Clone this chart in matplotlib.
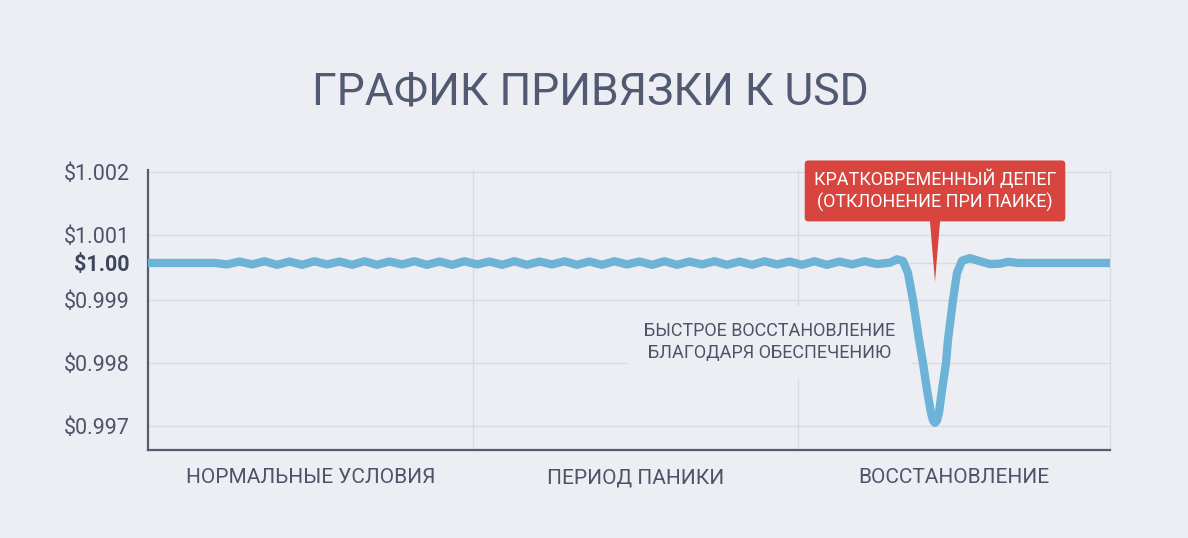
import numpy as np
import matplotlib
matplotlib.use("Agg")
import matplotlib.pyplot as plt
from matplotlib.patches import Polygon

# --- data -------------------------------------------------------------
title = "ГРАФИК ПРИВЯЗКИ К USD"
phases = ["НОРМАЛЬНЫЕ УСЛОВИЯ", "ПЕРИОД ПАНИКИ", "ВОССТАНОВЛЕНИЕ"]
phase_bounds = [0.0, 32.5, 65.0, 96.2]

price_ticks = [0.997, 0.998, 0.999, 1.000, 1.001, 1.002]
price_labels = ["$0.997", "$0.998", "$0.999", "$1.00", "$1.001", "$1.002"]

# flat start
start_t = [0.0, 6.7]
start_vals = [1.0, 1.0]

# small wobble around the peg (read crest / trough by crest / trough)
wave_vals = [0.99996, 1.00005, 0.99996, 1.00006, 0.99995, 1.00005, 0.99995,
             1.00006, 0.99996, 1.00005, 0.99995, 1.00006, 0.99995, 1.00005,
             0.99996, 1.00006, 0.99995, 1.00005, 0.99995, 1.00006, 0.99996,
             1.00005, 0.99995, 1.00006, 0.99995, 1.00005, 0.99996, 1.00006,
             0.99995, 1.00005, 0.99995, 1.00006, 0.99996, 1.00005, 0.99995,
             1.00006, 0.99995, 1.00005, 0.99996, 1.00006, 0.99995, 1.00005,
             0.99995, 1.00006, 0.99996, 1.00005, 0.99995, 1.00006, 0.99995,
             1.00005, 0.99996, 1.00006, 0.99997]
wave_t = 7.9 + 1.25 * np.arange(len(wave_vals))

# the short depeg and the recovery
dip_t = [74.2, 74.9, 75.5, 76.0, 76.5, 77.1, 77.5, 77.9, 78.3, 78.5, 78.7,
         78.9, 79.1, 79.4, 79.8, 80.0, 80.5, 80.9, 81.4, 82.2, 83.2, 84.2,
         85.2, 86.0, 87.0, 96.2]
dip_vals = [1.00001, 1.00013, 1.00007, 0.99973, 0.99900, 0.99837, 0.99800,
            0.99757, 0.99721, 0.99709, 0.99705, 0.99709, 0.99721, 0.99757,
            0.99800, 0.99837, 0.99900, 0.99973, 1.00008, 1.00017, 1.00006,
            0.99997, 0.99998, 1.00004, 1.00000, 1.00000]

t = np.concatenate([start_t, wave_t, dip_t])
price = np.concatenate([start_vals, wave_vals, dip_vals])

# --- style ------------------------------------------------------------
bg = "#eceef3"
ink = "#4d5469"
grid_c = "#d8dbe2"
line_c = "#6cb3d7"
red = "#d8453e"

plt.rcParams["font.family"] = ["Roboto", "DejaVu Sans"]

# the axis in the picture is not linear: 1.001..0.999 is squeezed
scale_vals = [0.996, 0.997, 0.998, 0.999, 1.000, 1.001, 1.002, 1.003]
scale_pos = [-63, 0, 63, 126, 163, 191, 254, 317]


def fwd(v):
    return np.interp(v, scale_vals, scale_pos)


def inv(p):
    return np.interp(p, scale_pos, scale_vals)


fig = plt.figure(figsize=(11.88, 5.38), dpi=100, facecolor=bg)
ax = fig.add_axes([148 / 1188, 88 / 538, 962 / 1188, 280 / 538])
ax.set_facecolor(bg)
ax.set_yscale("function", functions=(fwd, inv))
ax.set_xlim(phase_bounds[0], phase_bounds[-1])
ax.set_ylim(0.99662, 1.00203)

ax.plot(t, price, color=line_c, lw=6, solid_capstyle="round",
        solid_joinstyle="round", zorder=4)

# grid
ax.set_yticks(price_ticks)
ax.set_yticklabels(price_labels)
ax.set_xticks(phase_bounds[1:-1])
ax.set_xticklabels([])
mids = [(a + b) / 2 for a, b in zip(phase_bounds[:-1], phase_bounds[1:])]
ax.set_xticks(mids, minor=True)
ax.set_xticklabels(phases, minor=True)
ax.grid(True, which="major", color=grid_c, lw=1.0, zorder=0)
ax.set_axisbelow(True)
ax.tick_params(axis="both", which="both", length=0)
ax.tick_params(axis="y", pad=13, labelsize=15.5, labelcolor=ink)
ax.tick_params(axis="x", which="minor", pad=13, labelsize=15, labelcolor=ink)

for lab in ax.get_yticklabels():
    if lab.get_text() == "$1.00":
        lab.set_fontweight("bold")
        lab.set_color("#3f4659")

for side in ["left", "bottom"]:
    ax.spines[side].set_color("#555c70")
    ax.spines[side].set_linewidth(1.6)
ax.spines["top"].set_visible(False)
ax.spines["right"].set_color(grid_c)
ax.spines["right"].set_linewidth(1.0)

fig.text(0.497, 1 - 92 / 538, title, ha="center", va="center", fontsize=32,
         color="#525a72")

# annotation: recovery
ax.text(62.2, 0.99833, "БЫСТРОЕ ВОССТАНОВЛЕНИЕ\nБЛАГОДАРЯ ОБЕСПЕЧЕНИЮ",
        ha="center", va="center", fontsize=13, color=ink, linespacing=1.3,
        bbox=dict(boxstyle="square,pad=0.9", fc=bg, ec="none"), zorder=2)

# callout: short depeg
low_i = int(np.argmin(price))
dip_x = t[low_i]
ax.text(dip_x, 1.0017, "КРАТКОВРЕМЕННЫЙ ДЕПЕГ\n(ОТКЛОНЕНИЕ ПРИ ПАИКЕ)",
        ha="center", va="center", fontsize=13, color="white", linespacing=1.3,
        bbox=dict(boxstyle="round,pad=0.5,rounding_size=0.2", fc=red, ec="none"),
        zorder=6)
pointer = Polygon([[dip_x - 0.6, 1.0014], [dip_x + 0.6, 1.0014],
                   [dip_x, 0.99949]], closed=True, fc=red, ec="none", zorder=5)
ax.add_patch(pointer)

fig.savefig("out.png", dpi=100, facecolor=bg)
